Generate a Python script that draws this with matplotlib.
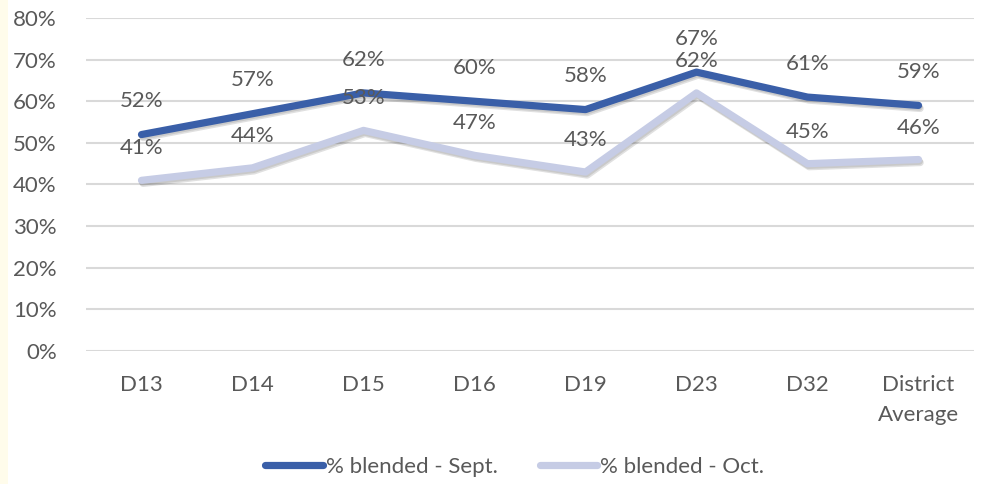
import matplotlib
matplotlib.use("Agg")
import matplotlib.pyplot as plt
import matplotlib.patheffects as pe
from matplotlib.lines import Line2D
from matplotlib.ticker import FuncFormatter

categories = ["D13", "D14", "D15", "D16", "D19", "D23", "D32", "District\nAverage"]
sept = [52, 57, 62, 60, 58, 67, 61, 59]
octo = [41, 44, 53, 47, 43, 62, 45, 46]
series_names = ["% blended - Sept.", "% blended - Oct."]
colors = ["#3A5FA8", "#C6CCE5"]

plt.rcParams['font.family'] = ['Lato', 'DejaVu Sans']
txt = "#595959"
fs = 16

fig = plt.figure(figsize=(9.84, 4.84), dpi=100)
fig.patch.set_facecolor("white")
fig.patches.append(plt.Rectangle((0, 0), 8/984, 1, transform=fig.transFigure,
                                 facecolor="#FFFCEB", edgecolor="none", zorder=0))
ax = fig.add_axes([86/984, 1 - 351/484, 888/984, 333/484])
ax.set_facecolor("white")
x = list(range(len(categories)))
shadow = [pe.SimpleLineShadow(offset=(1.2, -2.2), shadow_color="#000000", alpha=0.12),
          pe.SimpleLineShadow(offset=(0.6, -1.2), shadow_color="#000000", alpha=0.10),
          pe.Normal()]
ax.plot(x, sept, color=colors[0], lw=5.2, solid_capstyle="round", solid_joinstyle="round",
        path_effects=shadow, zorder=4)
ax.plot(x, octo, color=colors[1], lw=5.2, solid_capstyle="round", solid_joinstyle="round",
        path_effects=shadow, zorder=3)
for xi, v in zip(x, sept):
    ax.annotate(f"{v}%", (xi, v), xytext=(0, 24), textcoords="offset points",
                ha="center", va="center", fontsize=fs, color=txt, zorder=5)
for xi, v in zip(x, octo):
    ax.annotate(f"{v}%", (xi, v), xytext=(0, 23), textcoords="offset points",
                ha="center", va="center", fontsize=fs, color=txt, zorder=5)

ax.set_xlim(-0.5, len(categories) - 0.5)
ax.set_ylim(0, 80)
ax.set_yticks(range(0, 81, 10))
ax.yaxis.set_major_formatter(FuncFormatter(lambda v, p: f"{int(v)}%"))
ax.set_xticks(x)
ax.set_xticklabels(categories, fontsize=fs, color=txt, linespacing=1.65)
ax.tick_params(axis="y", labelsize=fs, labelcolor=txt, length=0, pad=21)
ax.tick_params(axis="x", length=0, pad=17)
ax.grid(axis="y", color="#D9D9D9", lw=1.5)
ax.set_axisbelow(True)
for s in ax.spines.values():
    s.set_visible(False)

handles = [Line2D([], [], color=c, lw=5.2, solid_capstyle="round") for c in colors]
fig.legend(handles, series_names, loc="center", bbox_to_anchor=(0.523, 1 - 467/484), ncol=2,
           frameon=False, fontsize=fs, handlelength=2.6, handletextpad=0.12, columnspacing=1.9,
           labelcolor=txt)
fig.savefig("out.png", dpi=100)
